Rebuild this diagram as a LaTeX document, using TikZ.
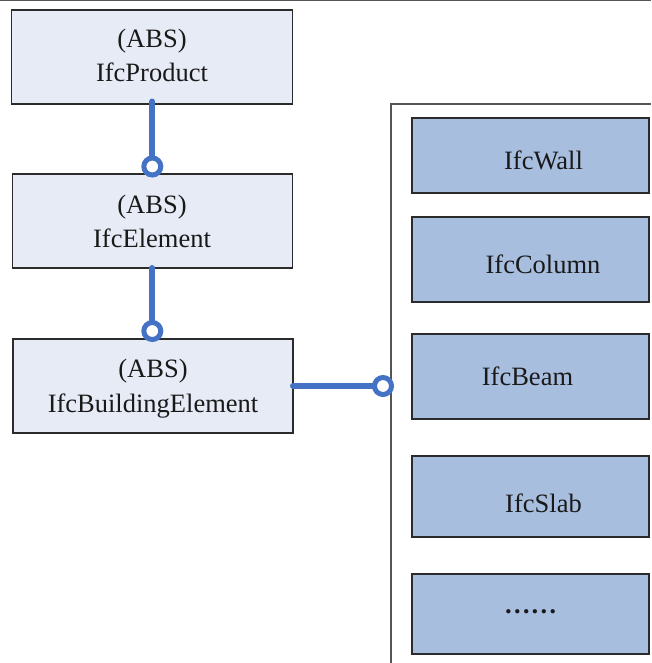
\documentclass[tikz,border=0pt]{standalone}
\usepackage{fontspec}
\setmainfont{Liberation Serif}
\definecolor{absfill}{HTML}{E7EBF6}
\definecolor{subfill}{HTML}{A8BEDF}
\definecolor{conn}{HTML}{4472C4}
\definecolor{framec}{HTML}{555555}
\definecolor{edgec}{HTML}{2B2B2B}
\begin{document}
\begin{tikzpicture}[x=1pt,y=-1pt,
  absbox/.style={draw=edgec, line width=1.1pt, fill=absfill, minimum width=280pt, minimum height=94pt, inner sep=0pt},
  subbox/.style={draw=edgec, line width=1.1pt, fill=subfill, minimum width=237pt, inner sep=0pt},
  lbl/.style={anchor=base, inner sep=0pt, font=\fontsize{26.5}{32}\selectfont, text=black!90},
  link/.style={draw=conn, line width=6pt, line cap=round},
  ring/.style={circle, draw=conn, fill=white, line width=5pt, minimum size=17pt, inner sep=0pt},
  framel/.style={draw=framec, line width=1.4pt}
]
\useasboundingbox (0,0) rectangle (651,663);
% frame lines
\coordinate (tl) at (0,0.7);
\coordinate (tr) at (651,0.7);
\draw[framel] (tl) -- (tr);
\coordinate (pb) at (391,663);
\coordinate (pc) at (391,104);
\coordinate (pr) at (651,104);
\draw[framel] (pb) -- (pc) -- (pr);

% left boxes
\node[absbox, minimum width=281pt] (P) at (152,57) {};
\node[absbox] (E) at (152.5,221) {};
\node[absbox] (B) at (153,386) {};
\node[lbl] (Pa) at (152,48) {(ABS)};
\node[lbl] (Pn) at (152,82) {IfcProduct};
\node[lbl] (Ea) at (152,213) {(ABS)};
\node[lbl] (En) at (152,247) {IfcElement};
\node[lbl] (Ba) at (153,377) {(ABS)};
\node[lbl] (Bn) at (153,412) {IfcBuildingElement};

% right boxes
\node[subbox, minimum height=75pt] (W) at (530.5,155.5) {};
\node[subbox, minimum height=85pt] (C) at (530.5,259.5) {};
\node[subbox, minimum height=85pt] (Bm) at (530.5,376.5) {};
\node[subbox, minimum height=81pt] (S) at (530.5,496.5) {};
\node[subbox, minimum height=80pt] (D) at (530.5,614) {};
\node[lbl] (Wt) at (543.5,170) {IfcWall};
\node[lbl] (Ct) at (543,273) {IfcColumn};
\node[lbl] (Bt) at (527.5,385) {IfcBeam};
\node[lbl] (St) at (543.5,512) {IfcSlab};
\node[lbl, font=\bfseries\fontsize{26.5}{32}\selectfont] (Dt) at (530.5,613) {……};

% connectors
\node[ring] (r1) at (152.3,166.5) {};
\node[ring] (r2) at (152.3,331) {};
\node[ring] (r3) at (383,386) {};
\coordinate (s1) at (152.3,101.5);
\coordinate (s2) at (152.3,268);
\coordinate (s3) at (293,386);
\draw[link] (s1) -- (r1);
\draw[link] (s2) -- (r2);
\draw[link] (s3) -- (r3);
\end{tikzpicture}
\end{document}
